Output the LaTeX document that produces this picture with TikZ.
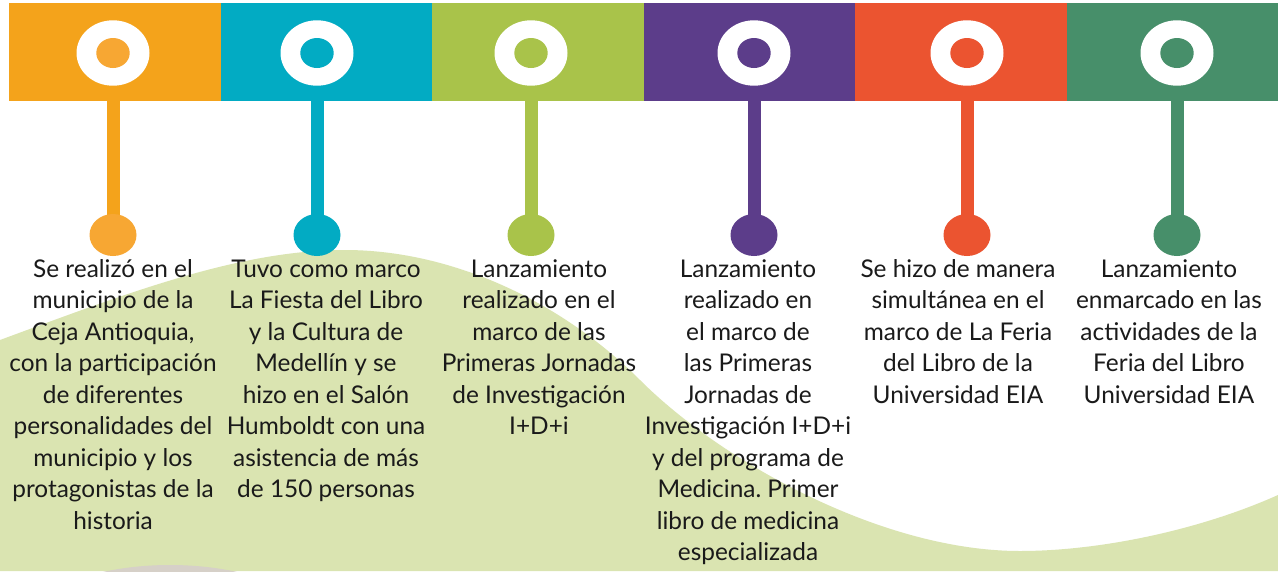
\documentclass[tikz,border=0pt]{standalone}
\usepackage{fontspec}
\setmainfont{Lato}
\frenchspacing
\usetikzlibrary{shapes.geometric}
\definecolor{cOr}{HTML}{F4A31B}
\definecolor{cOrL}{HTML}{F7A733}
\definecolor{cTe}{HTML}{02ABC3}
\definecolor{cGr}{HTML}{A9C34A}
\definecolor{cPu}{HTML}{5C3D8A}
\definecolor{cRe}{HTML}{EB5430}
\definecolor{cDg}{HTML}{478F6A}
\definecolor{wavec}{HTML}{DAE4B1}
\definecolor{hillc}{HTML}{D6D0C8}
\definecolor{txtc}{HTML}{1A1A1A}
\begin{document}
\begin{tikzpicture}[x=1pt,y=-1pt,
  barbox/.style={rectangle, inner sep=0, outer sep=0, minimum width=211.6pt, minimum height=98pt},
  ringout/.style={ellipse, fill=white, inner sep=0, outer sep=0, minimum width=73pt, minimum height=65.4pt},
  ringin/.style={ellipse, inner sep=0, outer sep=0, minimum width=33.4pt, minimum height=30pt},
  dotnode/.style={ellipse, inner sep=0, outer sep=0, minimum width=47pt, minimum height=42pt},
  stem/.style={line width=13pt},
  desc/.style={anchor=base, align=center, inner sep=0, text=txtc, font=\fontsize{24.4}{31.5}\selectfont\frenchspacing}
]
\useasboundingbox (0,0) rectangle (1278,571);
\fill[white] (0,0) rectangle (1278,571);
\begin{scope}
  \clip (0,0) rectangle (1278,571);
  \fill[wavec] (0,340) .. controls (130,292) and (240,250) .. (345,250)
     .. controls (450,250) and (560,300) .. (640,380)
     .. controls (720,460) and (880,551) .. (1020,551)
     .. controls (1100,551) and (1200,530) .. (1278,495)
     -- (1278,571) -- (0,571) -- cycle;
  \fill[hillc] (170,641) ellipse [x radius=160, y radius=76];
\end{scope}

% bars
\node[barbox, fill=cOr] (b1) at (114.8,52) {};
\node[barbox, fill=cTe] (b2) at (326.4,52) {};
\node[barbox, fill=cGr] (b3) at (538.0,52) {};
\node[barbox, fill=cPu] (b4) at (749.6,52) {};
\node[barbox, fill=cRe] (b5) at (961.2,52) {};
\node[barbox, fill=cDg] (b6) at (1172.8,52) {};

% rings
\node[ringout] (r1) at (113,53) {};
\node[ringout] (r2) at (317,53) {};
\node[ringout] (r3) at (531,53) {};
\node[ringout] (r4) at (754,53) {};
\node[ringout] (r5) at (967,53) {};
\node[ringout] (r6) at (1177,53) {};
\node[ringin, fill=cOrL] (i1) at (r1) {};
\node[ringin, fill=cTe] (i2) at (r2) {};
\node[ringin, fill=cGr] (i3) at (r3) {};
\node[ringin, fill=cPu] (i4) at (r4) {};
\node[ringin, fill=cRe] (i5) at (r5) {};
\node[ringin, fill=cDg] (i6) at (r6) {};

% dot positions
\coordinate (d1) at (113,235);
\coordinate (d2) at (317,235);
\coordinate (d3) at (531,235);
\coordinate (d4) at (754,235);
\coordinate (d5) at (967,235);
\coordinate (d6) at (1177,235);

% stems
\draw[stem, cOr] (b1.south -| d1) -- (d1);
\draw[stem, cTe] (b2.south -| d2) -- (d2);
\draw[stem, cGr] (b3.south -| d3) -- (d3);
\draw[stem, cPu] (b4.south -| d4) -- (d4);
\draw[stem, cRe] (b5.south -| d5) -- (d5);
\draw[stem, cDg] (b6.south -| d6) -- (d6);

% dots
\node[dotnode, fill=cOrL] (e1) at (d1) {};
\node[dotnode, fill=cTe] (e2) at (d2) {};
\node[dotnode, fill=cGr] (e3) at (d3) {};
\node[dotnode, fill=cPu] (e4) at (d4) {};
\node[dotnode, fill=cRe] (e5) at (d5) {};
\node[dotnode, fill=cDg] (e6) at (d6) {};

% texts (anchor = baseline of last line; first baseline at y=277, spacing 31.5)
\node[desc] (t1) at (113,529) {Se realizó en el\\municipio de la\\Ceja Antioquia,\\con la participación\\de diferentes\\personalidades del\\municipio y los\\protagonistas de la\\historia};
\node[desc] (t2) at (326,497.5) {Tuvo como marco\\La Fiesta del Libro\\y la Cultura de\\Medellín y se\\hizo en el Salón\\Humboldt con una\\asistencia de más\\de 150 personas};
\node[desc] (t3) at (539,434.5) {Lanzamiento\\realizado en el\\marco de las\\Primeras Jornadas\\de Investigación\\I+D+i};
\node[desc] (t4) at (748,560.5) {Lanzamiento\\realizado en\\el marco de\\las Primeras\\Jornadas de\\Investigación I+D+i\\y del programa de\\Medicina. Primer\\libro de medicina\\especializada};
\node[desc] (t5) at (958,403) {Se hizo de manera\\simultánea en el\\marco de La Feria\\del Libro de la\\Universidad EIA};
\node[desc] (t6) at (1169,403) {Lanzamiento\\enmarcado en las\\actividades de la\\Feria del Libro\\Universidad EIA};
\end{tikzpicture}
\end{document}
